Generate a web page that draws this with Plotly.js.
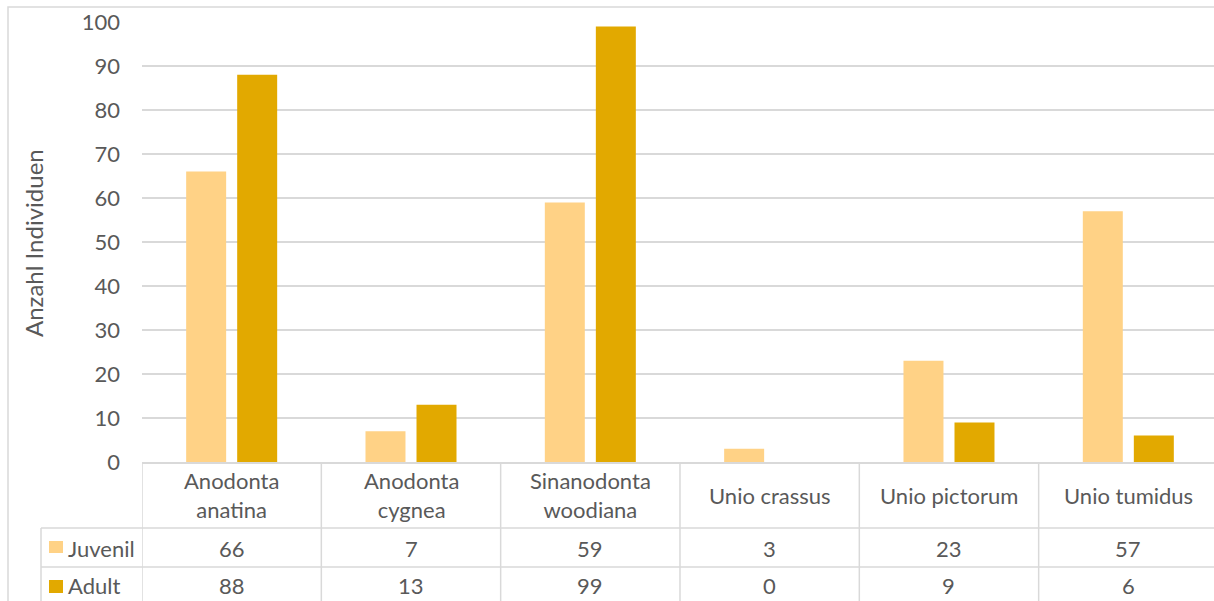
<!DOCTYPE html>
<html><head><meta charset="utf-8">
<script src="https://cdn.plot.ly/plotly-3.0.1.min.js"></script>
<style>html,body{margin:0;padding:0;overflow:hidden;background:#fff}#chart{width:1214px;height:601px}</style>
</head><body><div id="chart"></div>
<script>
var categories = ["Anodonta<br>anatina", "Anodonta<br>cygnea", "Sinanodonta<br>woodiana", "Unio crassus", "Unio pictorum", "Unio tumidus"];
var seriesNames = ["Juvenil", "Adult"];
var juvenil = [66, 7, 59, 3, 23, 57];
var adult = [88, 13, 99, 0, 9, 6];
var colors = ["#FFD286", "#E2A900"];
var yTitle = "Anzahl Individuen";

var FONT = "Lato, sans-serif";
var FS = 22;
var TXT = "#595959";
var LINE = "#d9d9d9";
var W = 1214, H = 601, L = 142, T = 22, PW = W - L, PH = 440;
function px(x){ return (x - L) / PW; }
function py(y){ return 1 - (y - T) / PH; }

var traces = [
  {type:"bar", name:seriesNames[0], x:categories, y:juvenil, marker:{color:colors[0]}, hoverinfo:"x+y"},
  {type:"bar", name:seriesNames[1], x:categories, y:adult, marker:{color:colors[1]}, hoverinfo:"x+y"}
];

var shapes = [];
var annotations = [];
// outer border
shapes.push({type:"rect", xref:"paper", yref:"paper", x0:px(8), x1:px(1300), y0:py(700), y1:py(7), line:{color:LINE, width:1.5}, fillcolor:"rgba(0,0,0,0)", layer:"below"});
// table horizontal lines
[528, 567].forEach(function(y){
  shapes.push({type:"line", xref:"paper", yref:"paper", x0:px(41), x1:1.01, y0:py(y), y1:py(y), line:{color:LINE, width:1.5}});
});
// left vertical of legend column
shapes.push({type:"line", xref:"paper", yref:"paper", x0:px(41), x1:px(41), y0:py(528), y1:py(620), line:{color:LINE, width:1.5}});
// vertical separators at category boundaries
for (var i = 0; i < categories.length; i++) {
  shapes.push({type:"line", xref:"x", yref:"paper", x0:i-0.5, x1:i-0.5, y0:0, y1:py(620), line:{color:LINE, width:1.5}});
}
// category labels and values
var rows = [juvenil, adult];
var rowY = [py(548), py(585)];
for (var i = 0; i < categories.length; i++) {
  annotations.push({xref:"x", yref:"paper", x:categories[i], y:py(495), text:categories[i], showarrow:false, font:{family:FONT, size:FS, color:TXT}, xanchor:"center", yanchor:"middle"});
  for (var r = 0; r < 2; r++) {
    annotations.push({xref:"x", yref:"paper", x:categories[i], y:rowY[r], text:String(rows[r][i]), showarrow:false, font:{family:FONT, size:FS, color:TXT}, xanchor:"center", yanchor:"middle"});
  }
}
// legend keys in table
var swY = [[541, 553], [580, 593]];
for (var r = 0; r < 2; r++) {
  shapes.push({type:"rect", xref:"paper", yref:"paper", x0:px(49), x1:px(63), y0:py(swY[r][1]), y1:py(swY[r][0]), fillcolor:colors[r], line:{width:0}});
  annotations.push({xref:"paper", yref:"paper", x:px(66), y:rowY[r], text:seriesNames[r], showarrow:false, font:{family:FONT, size:FS, color:TXT}, xanchor:"left", yanchor:"middle"});
}
// y axis title
annotations.push({xref:"paper", yref:"paper", x:px(33), y:py(243), text:yTitle, textangle:-90, showarrow:false, font:{family:FONT, size:24, color:TXT}, xanchor:"center", yanchor:"middle"});

var layout = {
  width:W, height:H,
  margin:{l:L, r:0, t:T, b:H - T - PH, pad:0},
  paper_bgcolor:"#fff", plot_bgcolor:"#fff",
  barmode:"group", bargap:0.431, bargroupgap:0.216,
  showlegend:false,
  xaxis:{type:"category", range:[-0.5, -0.5 + PW / 179.33], showticklabels:false, showgrid:false, zeroline:false, showline:true, linecolor:LINE, linewidth:1.5, ticks:"", fixedrange:true},
  yaxis:{range:[0, 100], dtick:10, tick0:0, showgrid:true, gridcolor:LINE, gridwidth:1.5, zeroline:false, showline:false, ticks:"", ticklabelstandoff:21, tickfont:{family:FONT, size:FS, color:TXT}, fixedrange:true},
  shapes:shapes, annotations:annotations,
  font:{family:FONT, color:TXT}
};
Plotly.newPlot("chart", traces, layout, {displayModeBar:false, staticPlot:true});
</script></body></html>
